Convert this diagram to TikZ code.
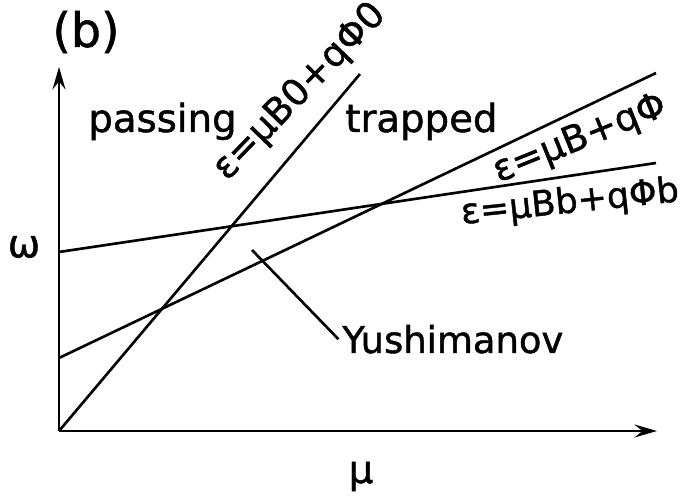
\documentclass[tikz,border=0pt]{standalone}
\usepackage{fontspec}
\setmainfont{DejaVu Sans}[RawFeature={embolden=1.2}]
\usetikzlibrary{arrows.meta}
\tikzset{
  lbl/.style={font=\fontsize{22}{26}\selectfont, inner sep=0pt},
  eqn/.style={font=\fontsize{20}{24}\selectfont, inner sep=0pt},
  curve/.style={line width=1.5pt},
}

\begin{document}
\begin{tikzpicture}[>={Stealth[length=4.5mm,width=2.6mm,inset=1.6mm]}]
\useasboundingbox (0,0) rectangle (13.7,9.96);
% axes
\coordinate (o) at (1.18,1.34);
\coordinate (ytop) at (1.18,8.62);
\coordinate (xend) at (13.14,1.34);
\draw[curve, ->] (o) -- (ytop);
\draw[curve, ->] (o) -- (xend);
% the three lines
\draw[curve] (o) -- (7.2,8.48);
\draw[curve] (1.18,2.8) -- (13.12,8.5);
\draw[curve] (1.18,4.92) -- (13.12,6.7);
% labels
\node[lbl, font=\fontsize{27}{32}\selectfont] (tagb) at (1.72,9.32) {(b)};
\node[lbl, anchor=base west] (pass) at (1.76,7.32) {passing};
\node[lbl, anchor=base west] (trap) at (6.9,7.32) {trapped};
\node[lbl] (omega) at (0.48,5.02) {ω};
\node[lbl, anchor=base] (mu) at (7.22,0.3) {μ};
\node[lbl, font=\fontsize{21}{25}\selectfont, anchor=base west] (yush) at (6.84,2.9) {Yushimanov};
\node[eqn, font=\fontsize{21}{25}\selectfont, rotate=46] (eps0) at (6.0,8.12) {ε=μB0+qΦ0};
\node[eqn, font=\fontsize{21}{25}\selectfont, rotate=22] (eps) at (11.6,7.17) {ε=μB+qΦ};
\node[eqn, rotate=6] (epsb) at (11.4,5.9) {ε=μBb+qΦb};
% pointer to the Yushimanov region
\coordinate (ytip) at (5.04,4.96);
\draw[curve] (ytip) -- ([xshift=-2pt]yush.west);
\end{tikzpicture}
\end{document}
